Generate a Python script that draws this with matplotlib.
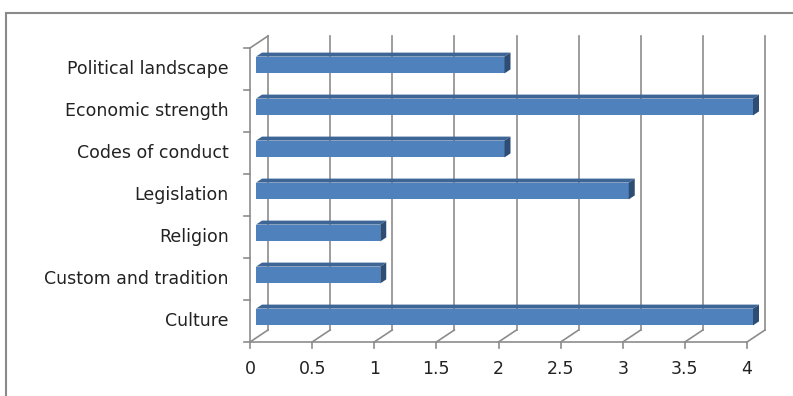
import matplotlib
matplotlib.use('Agg')
import matplotlib.pyplot as plt
from matplotlib.patches import Polygon, Rectangle

# Data (bottom to top, as in the chart)
categories = ['Culture', 'Custom and tradition', 'Religion', 'Legislation',
              'Codes of conduct', 'Economic strength', 'Political landscape']
values = [4, 1, 1, 3, 2, 4, 2]
x_ticks = [0, 0.5, 1, 1.5, 2, 2.5, 3, 3.5, 4]
x_tick_labels = ['0', '0.5', '1', '1.5', '2', '2.5', '3', '3.5', '4']

plt.rcParams['font.family'] = ['DejaVu Sans']

W, H = 793, 396
fig = plt.figure(figsize=(W / 100, H / 100), dpi=100)

# outer frame (cut off at right and bottom)
fig.patches.append(Rectangle((6 / W, -0.1), 2.0, (H - 13) / H + 0.1,
                             transform=fig.transFigure, fill=False,
                             edgecolor='#8a8a8a', linewidth=1.5))

# front plane of the 3d plot area
left, right, top, bottom = 250, 747, 48, 342
ax = fig.add_axes([left / W, (H - bottom) / H, (right - left) / W, (bottom - top) / H])
ax.set_xlim(0, 4)
ax.set_ylim(-0.5, len(categories) - 0.5)
ax.axis('off')

# pixel -> data conversions
sx = 4 / (right - left)
sy = len(categories) / (bottom - top)
depth_dx, depth_dy = 18 * sx, 12 * sy       # full depth of the box
grid_c = '#8c8c8c'
lw = 1.2
y0, y1 = -0.5, len(categories) - 0.5

# back wall gridlines and floor diagonals
for x, lab in zip(x_ticks, x_tick_labels):
    ax.plot([x + depth_dx, x + depth_dx], [y0 + depth_dy, y1 + depth_dy],
            color=grid_c, lw=lw, clip_on=False, zorder=1)
    ax.plot([x, x + depth_dx], [y0, y0 + depth_dy], color=grid_c, lw=lw,
            clip_on=False, zorder=1)
    ax.plot([x, x], [y0, y0 - 6 * sy], color=grid_c, lw=lw, clip_on=False)
    ax.text(x, y0 - 27 * sy, lab, ha='center', va='center', fontsize=12.5,
            color='#222222')

# left wall front edge + top diagonal, front floor line
ax.plot([0, 0], [y0, y1], color=grid_c, lw=lw, clip_on=False, zorder=1)
ax.plot([0, depth_dx], [y1, y1 + depth_dy], color=grid_c, lw=lw, clip_on=False, zorder=1)
ax.plot([0, 4], [y0, y0], color=grid_c, lw=lw, clip_on=False, zorder=1)

# category ticks and labels
for i in range(len(categories) + 1):
    ax.plot([-6 * sx, 0], [y0 + i, y0 + i], color=grid_c, lw=lw, clip_on=False)
for i, name in enumerate(categories):
    ax.text(-21 * sx, i, name, ha='right', va='center', fontsize=12.5, color='#222222')

# 3d bars, sitting in the middle third of the depth
bh = 0.4
fx, fy = depth_dx / 3, depth_dy / 3
front_c, top_c, side_c = '#4f81bd', '#3d6596', '#2e4d75'
for i, v in enumerate(values):
    ax.barh(i + fy, v, height=bh, left=fx, color=front_c, zorder=3, clip_on=False)
    yt = i + fy + bh / 2
    ax.add_patch(Polygon([(fx, yt), (fx + v, yt), (2 * fx + v, yt + fy), (2 * fx, yt + fy)],
                         closed=True, facecolor=top_c, edgecolor='none', zorder=3, clip_on=False))
    yb = i + fy - bh / 2
    ax.add_patch(Polygon([(fx + v, yb), (fx + v, yt), (2 * fx + v, yt + fy), (2 * fx + v, yb + fy)],
                         closed=True, facecolor=side_c, edgecolor='none', zorder=3, clip_on=False))

fig.savefig('out.png', dpi=100)
